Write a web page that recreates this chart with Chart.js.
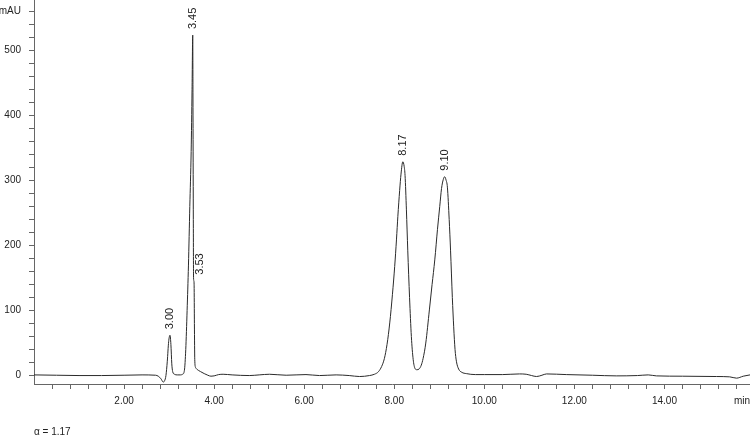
<!DOCTYPE html>
<html>
<head>
<meta charset="utf-8">
<script src="https://cdn.jsdelivr.net/npm/chart.js@4.4.1/dist/chart.umd.min.js"></script>
<style>
  html, body { margin: 0; padding: 0; background: #fff; }
  #wrap { width: 750px; height: 437px; position: relative; }
  canvas { display: block; }
</style>
</head>
<body>
<div id="wrap"><canvas id="c" width="750" height="437"></canvas></div>
<script>
// ---- data ----
const times = [
  0.00, 0.50, 1.00, 1.50, 2.00, 2.40, 2.70, 2.76, 2.82, 2.87, 2.90, 2.93, 2.96, 2.99, 3.02, 3.04, 3.06, 3.08,
  3.12, 3.18, 3.25, 3.30, 3.34, 3.37, 3.40, 3.43, 3.46, 3.49, 3.51, 3.525, 3.532, 3.538, 3.543, 3.55, 3.556,
  3.562, 3.57, 3.585, 3.60, 3.65, 3.70, 3.78, 3.86, 3.93, 4.00, 4.10, 4.20, 4.40, 4.78, 5.00, 5.23, 5.60,
  6.04, 6.34, 6.71, 7.00, 7.23, 7.45, 7.56, 7.65, 7.72, 7.78, 7.84, 7.90, 7.96, 8.01, 8.05, 8.08, 8.12, 8.15,
  8.19, 8.22, 8.24, 8.27, 8.30, 8.34, 8.38, 8.42, 8.46, 8.50, 8.55, 8.60, 8.64, 8.70, 8.78, 8.84, 8.90, 8.96,
  9.01, 9.05, 9.09, 9.12, 9.15, 9.18, 9.22, 9.25, 9.29, 9.32, 9.35, 9.38, 9.43, 9.50, 9.60, 9.80, 10.00,
  10.40, 10.78, 10.93, 11.05, 11.16, 11.28, 11.38, 11.82, 12.40, 12.93, 13.40, 13.64, 13.82, 14.40, 15.16,
  15.45, 15.60, 15.75, 15.90
];
const signal = [
  1, 0.5, 0, 0, 0.5, 1, 0.5, -1, -5, -10, -8, 0, 22, 52, 62, 48, 18, 6,
  2, 1, 1, 2, 8, 40, 100, 170, 260, 345, 440, 524, 380, 240, 150, 146, 138,
  80, 25, 13, 11, 8, 6, 3, 0.5, -1, -0.5, 1.5, 2, 1, 0, 1, 2, 0.5,
  1.5, 0, 1, 0, -1.5, 0, 2, 6, 14, 26, 48, 81, 125, 168, 210, 245, 285, 310,
  329, 322, 308, 255, 193, 120, 60, 25, 11, 9, 10, 16, 26, 50, 101, 140, 178, 225,
  260, 288, 302, 306, 301, 290, 240, 193, 120, 75, 40, 22, 10, 5, 3, 1.5, 1.5,
  1.5, 2.5, 2, 0, -1.5, 0.5, 2.5, 1.5, 0.5, -0.5, 0, 1, -0.5, -1, -1.5,
  -2, -4, -1, 1
];

// peak annotations
const peakLabels = ['3.00', '3.45', '3.53', '8.17', '9.10'];
const peakTimes  = [3.02, 3.525, 3.55, 8.19, 9.12];
const peakHeights = [62, 524, 146, 329, 306];

// axis tick labels
const xLabelValues = [2, 4, 6, 8, 10, 12, 14];
const xLabelTexts  = ['2.00', '4.00', '6.00', '8.00', '10.00', '12.00', '14.00'];
const yLabelValues = [0, 100, 200, 300, 400, 500, 560];
const yLabelTexts  = ['0', '100', '200', '300', '400', '500', 'mAU'];
const xUnit = 'min';
const noteText = 'α = 1.17';

// ---- style ----
const FONT = '"Liberation Sans", Arial, Helvetica, sans-serif';
const labelShiftPx = [0, 0, 6, 0, 0];
const AXIS = '#666';
const INK = '#222';

function labelFor(values, texts, v) {
  for (let i = 0; i < values.length; i++) {
    if (Math.abs(values[i] - v) < 1e-6) return texts[i];
  }
  return '';
}

const annotPlugin = {
  id: 'annot',
  afterDatasetsDraw(chart) {
    const ctx = chart.ctx;
    const xs = chart.scales.x, ys = chart.scales.y;
    ctx.save();
    ctx.fillStyle = INK;
    ctx.font = '11px ' + FONT;
    ctx.textAlign = 'left';
    ctx.textBaseline = 'middle';
    for (let i = 0; i < peakLabels.length; i++) {
      const px = xs.getPixelForValue(peakTimes[i]) + labelShiftPx[i];
      const py = ys.getPixelForValue(peakHeights[i]) - 6;
      ctx.save();
      ctx.translate(px, py);
      ctx.rotate(-Math.PI / 2);
      ctx.fillText(peakLabels[i], 0, 0);
      ctx.restore();
    }
    ctx.font = '10px ' + FONT;
    ctx.textAlign = 'right';
    ctx.textBaseline = 'middle';
    ctx.fillText(xUnit, 750, 401);
    ctx.textAlign = 'left';
    ctx.textBaseline = 'alphabetic';
    ctx.fillText(noteText, 34, 435);
    ctx.restore();
  }
};

new Chart(document.getElementById('c'), {
  type: 'line',
  data: {
    datasets: [{
      data: times.map((t, i) => ({ x: t, y: signal[i] })),
      borderColor: '#2a2a2a',
      borderWidth: 1,
      pointRadius: 0,
      fill: false,
      cubicInterpolationMode: 'monotone'
    }]
  },
  options: {
    responsive: false,
    animation: false,
    devicePixelRatio: 1,
    layout: { padding: 0 },
    plugins: { legend: { display: false }, tooltip: { enabled: false } },
    scales: {
      x: {
        type: 'linear',
        min: 0,
        max: 15.9,
        afterBuildTicks(scale) {
          const t = [];
          for (let k = 1; k <= 39; k++) t.push({ value: Math.round(k * 4) / 10 });
          scale.ticks = t;
        },
        afterFit(scale) {
          scale.height = 53;
          scale.paddingLeft = 0;
          scale.paddingRight = 0;
        },
        ticks: {
          autoSkip: false,
          maxRotation: 0,
          minRotation: 0,
          padding: 6,
          color: INK,
          font: { family: FONT, size: 10 },
          callback: (v) => labelFor(xLabelValues, xLabelTexts, v)
        },
        grid: { drawOnChartArea: false, drawTicks: true, tickLength: 5, color: AXIS, tickColor: AXIS },
        border: { display: true, color: AXIS, width: 1 }
      },
      y: {
        type: 'linear',
        min: -13,
        max: 578,
        afterBuildTicks(scale) {
          const t = [];
          for (let k = 0; k <= 28; k++) t.push({ value: k * 20 });
          scale.ticks = t;
        },
        afterFit(scale) {
          scale.width = 34;
          scale.paddingTop = 0;
          scale.paddingBottom = 0;
        },
        ticks: {
          autoSkip: false,
          padding: 8,
          color: INK,
          font: { family: FONT, size: 10 },
          callback: (v) => labelFor(yLabelValues, yLabelTexts, v)
        },
        grid: { drawOnChartArea: false, drawTicks: true, tickLength: 5, color: AXIS, tickColor: AXIS },
        border: { display: true, color: AXIS, width: 1 }
      }
    }
  },
  plugins: [annotPlugin]
});
</script>
</body>
</html>
